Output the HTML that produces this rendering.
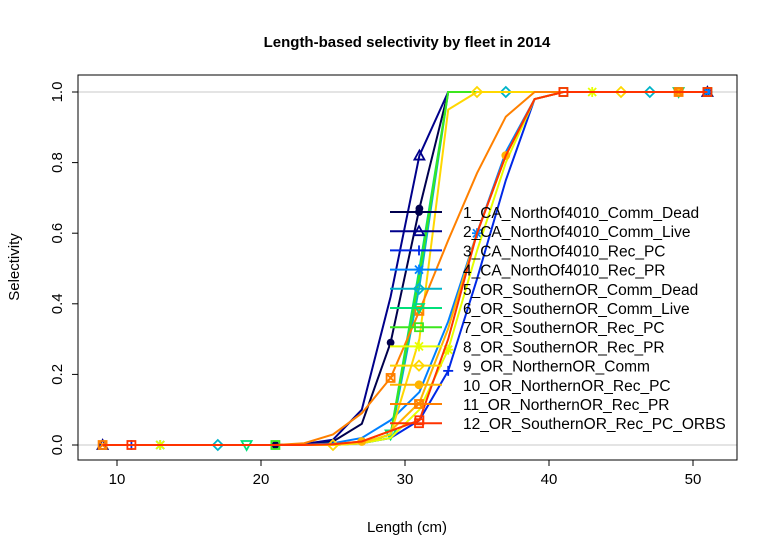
<!DOCTYPE html>
<html><head><meta charset="utf-8"><style>
body{margin:0;background:#fff;}
svg{display:block;font-family:"Liberation Sans",Arial,sans-serif;}
</style></head><body>
<svg id="chart" width="777" height="558">
<rect width="777" height="558" fill="#fff"/>
<text x="407" y="47" text-anchor="middle" font-size="15" font-weight="bold">Length-based selectivity by fleet in 2014</text>
<text x="407" y="532" text-anchor="middle" font-size="15">Length (cm)</text>
<text transform="translate(19,267) rotate(-90)" text-anchor="middle" font-size="15">Selectivity</text>
<g id="grid"></g><g id="series"></g><g id="axes"></g><g id="legend"></g>
</svg>
<script>
const lengths=[9,11,13,15,17,19,21,23,25,27,29,31,33,35,37,39,41,43,45,47,49,51];
const xTicks=[10,20,30,40,50];
const yTicks=[0,0.2,0.4,0.6,0.8,1.0];
const yTickLabels=["0.0","0.2","0.4","0.6","0.8","1.0"];
const names=["1_CA_NorthOf4010_Comm_Dead","2_CA_NorthOf4010_Comm_Live","3_CA_NorthOf4010_Rec_PC","4_CA_NorthOf4010_Rec_PR","5_OR_SouthernOR_Comm_Dead","6_OR_SouthernOR_Comm_Live","7_OR_SouthernOR_Rec_PC","8_OR_SouthernOR_Rec_PR","9_OR_NorthernOR_Comm","10_OR_NorthernOR_Rec_PC","11_OR_NorthernOR_Rec_PR","12_OR_SouthernOR_Rec_PC_ORBS"];
const s1=[0,0,0,0,0,0,0,0.002,0.01,0.06,0.29,0.67,1,1,1,1,1,1,1,1,1,1];
const s2=[0,0,0,0,0,0,0,0.003,0.015,0.1,0.42,0.82,1,1,1,1,1,1,1,1,1,1];
const s3=[0,0,0,0,0,0,0,0,0.002,0.005,0.02,0.07,0.21,0.47,0.75,0.98,1,1,1,1,1,1];
const s4=[0,0,0,0,0,0,0,0,0.005,0.02,0.07,0.15,0.35,0.6,0.83,0.98,1,1,1,1,1,1];
const s5=[0,0,0,0,0,0,0,0,0,0.005,0.02,0.45,1,1,1,1,1,1,1,1,1,1];
const s6=[0,0,0,0,0,0,0,0,0,0.005,0.03,0.5,1,1,1,1,1,1,1,1,1,1];
const s7=[0,0,0,0,0,0,0,0,0,0.005,0.03,0.48,1,1,1,1,1,1,1,1,1,1];
const s8=[0,0,0,0,0,0,0,0,0,0.005,0.02,0.1,0.27,0.55,0.8,0.98,1,1,1,1,1,1];
const s9=[0,0,0,0,0,0,0,0,0,0.005,0.03,0.3,0.95,1,1,1,1,1,1,1,1,1];
const s10=[0,0,0,0,0,0,0,0,0.002,0.01,0.04,0.12,0.33,0.6,0.82,0.98,1,1,1,1,1,1];
const s11=[0,0,0,0,0,0,0,0.005,0.03,0.09,0.19,0.38,0.58,0.77,0.93,1,1,1,1,1,1,1];
const s12=[0,0,0,0,0,0,0,0,0.002,0.01,0.04,0.07,0.3,0.6,0.82,0.98,1,1,1,1,1,1];
const seriesVals=[s1,s2,s3,s4,s5,s6,s7,s8,s9,s10,s11,s12];
const colors=["#00004D","#00008B","#0028E6","#0080FF","#00B4C8","#00E07A","#3CE61E","#E6FF00","#FFD700","#FFB400","#FF8000","#FF3300"];
const markerTypes=["circle","tri","plus","star","diamond","tridown","square","star","diamond","dot","boxx","square"];
const markerIdx=[[6,10,11,21],[0,11,21],[1,12,21],[2,13,21],[4,14,19],[5,10,20],[6,16,21],[2,12,17],[8,13,18],[9,14,20],[0,10,11,20],[1,11,16,21]];
const NS="http://www.w3.org/2000/svg";
const L=78,R=737,T=75,B=460;
function xs(v){return 117+(v-10)*14.4;}
function ys(v){return 445-v*353;}
function el(t,a,p){const e=document.createElementNS(NS,t);for(const k in a)e.setAttribute(k,a[k]);p.appendChild(e);return e;}
function marker(type,x,y,c,p){
  const g=el("g",{stroke:c,fill:"none","stroke-width":1.8},p);
  if(type==="circle"){g.setAttribute("fill",c);el("circle",{cx:x,cy:y,r:3},g);}
  else if(type==="dot"){g.setAttribute("fill",c);el("circle",{cx:x,cy:y,r:3.5},g);}
  else if(type==="tri")el("polygon",{points:`${x},${y-5} ${x-5},${y+4} ${x+5},${y+4}`},g);
  else if(type==="tridown")el("polygon",{points:`${x},${y+5} ${x-5},${y-4} ${x+5},${y-4}`},g);
  else if(type==="plus"){el("line",{x1:x-5,y1:y,x2:x+5,y2:y},g);el("line",{x1:x,y1:y-5,x2:x,y2:y+5},g);}
  else if(type==="star"){el("line",{x1:x-5,y1:y,x2:x+5,y2:y},g);el("line",{x1:x,y1:y-5,x2:x,y2:y+5},g);el("line",{x1:x-4,y1:y-4,x2:x+4,y2:y+4},g);el("line",{x1:x-4,y1:y+4,x2:x+4,y2:y-4},g);}
  else if(type==="diamond")el("polygon",{points:`${x},${y-5} ${x+5},${y} ${x},${y+5} ${x-5},${y}`},g);
  else if(type==="square")el("rect",{x:x-4,y:y-4,width:8,height:8},g);
  else if(type==="boxx"){el("rect",{x:x-4,y:y-4,width:8,height:8},g);el("line",{x1:x-4,y1:y-4,x2:x+4,y2:y+4},g);el("line",{x1:x-4,y1:y+4,x2:x+4,y2:y-4},g);}
  return g;
}
const grid=document.getElementById("grid");
[0,1].forEach(v=>{const g=el("line",{x1:L,x2:R,y1:ys(v),y2:ys(v),stroke:"#c8c8c8","stroke-width":1},grid);

});
const sg=document.getElementById("series");
seriesVals.forEach((vals,i)=>{
  const g=el("g",{},sg);
  
  
  const pts=vals.map((v,j)=>xs(lengths[j])+","+ys(v)).join(" ");
  el("polyline",{points:pts,fill:"none",stroke:colors[i],"stroke-width":2},g);
  markerIdx[i].forEach(j=>{const m=marker(markerTypes[i],xs(lengths[j]),ys(vals[j]),colors[i],g);
  
  });
});
const ax=document.getElementById("axes");
el("rect",{x:L,y:T,width:R-L,height:B-T,fill:"none",stroke:"#000","stroke-width":1},ax);
xTicks.forEach(t=>{
  el("line",{x1:xs(t),x2:xs(t),y1:B,y2:B+6,stroke:"#000"},ax);
  const tx=el("text",{x:xs(t),y:B+24,"text-anchor":"middle","font-size":15},ax);tx.textContent=t;
  
  
});
yTicks.forEach((t,k)=>{
  el("line",{x1:L-6,x2:L,y1:ys(t),y2:ys(t),stroke:"#000"},ax);
  const tx=el("text",{transform:`translate(${L-16},${ys(t)}) rotate(-90)`,"text-anchor":"middle","font-size":15},ax);tx.textContent=yTickLabels[k];
  
  
});
const lg=document.getElementById("legend");
names.forEach((n,i)=>{
  const y=212+i*19.2;
  const g=el("g",{},lg);
  
  
  el("line",{x1:390,x2:442,y1:y,y2:y,stroke:colors[i],"stroke-width":2},g);
  marker(markerTypes[i],419,y,colors[i],g);
  const t=el("text",{x:463,y:y+6,"font-size":15.5},g);t.textContent=n;
});
</script>
</body></html>
